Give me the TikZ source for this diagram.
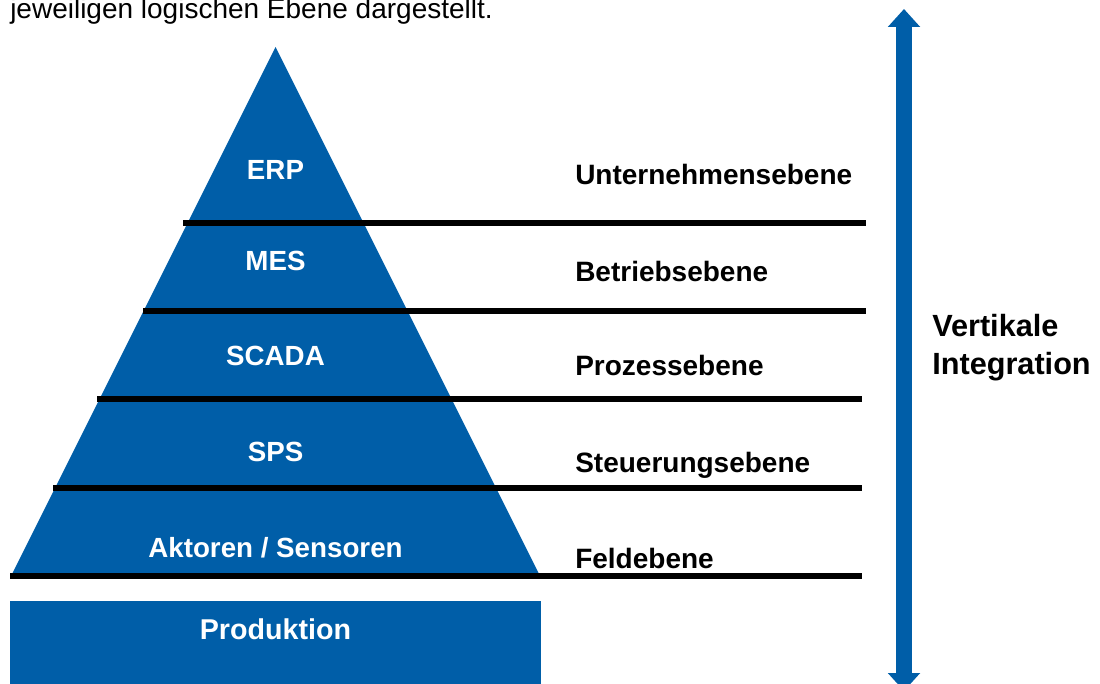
\documentclass[tikz,border=0pt]{standalone}
\usepackage{fontspec}
\setmainfont{Liberation Sans}
\usetikzlibrary{arrows.meta}
\definecolor{ebeneblau}{RGB}{0,94,168}

\begin{document}
\begin{tikzpicture}[x=0.75pt, y=-0.75pt,
    stufe/.style={text=white, inner sep=0pt, anchor=base, font=\bfseries\fontsize{20.8}{24}\selectfont},
    ebene/.style={text=black, inner sep=0pt, anchor=base west, font=\bfseries\fontsize{21}{24}\selectfont},
    trenner/.style={black, line width=4.2pt}]
    \useasboundingbox (0,0) rectangle (1100,684);

    % Satzende oben
    \node[anchor=base west, inner sep=0pt, font=\fontsize{21}{25}\selectfont] (satz) at (10,19) {jeweiligen logischen Ebene dargestellt.};

    % Pyramide
    \fill[ebeneblau] (11,576) -- (275.5,47) -- (540,576) -- cycle;
    \node[fill=ebeneblau, inner sep=0pt, anchor=north west, minimum width=531*0.75pt, minimum height=90*0.75pt] (prodfeld) at (10,601) {};

    \draw[trenner] (183,223) -- (866,223);
    \draw[trenner] (143,311) -- (866,311);
    \draw[trenner] (97,399) -- (862,399);
    \draw[trenner] (53,488) -- (862,488);
    \draw[trenner] (10,576) -- (862,576);

    \node[stufe] (erp) at (275.5,180) {ERP};
    \node[stufe] (mes) at (275.5,271) {MES};
    \node[stufe] (scada) at (275.5,366) {SCADA};
    \node[stufe] (sps) at (275.5,461) {SPS};
    \node[stufe] (aktsens) at (275.5,557) {Aktoren / Sensoren};
    \node[stufe, font=\bfseries\fontsize{21.5}{25}\selectfont] (prod) at (275.5,639) {Produktion};

    % Ebenen rechts
    \node[ebene] (unternehmen) at (575,185) {Unternehmensebene};
    \node[ebene] (betrieb) at (575,282) {Betriebsebene};
    \node[ebene] (prozess) at (575,376) {Prozessebene};
    \node[ebene] (steuerung) at (575,472) {Steuerungsebene};
    \node[ebene] (feld) at (575,568) {Feldebene};

    % vertikaler Pfeil
    \coordinate (oben) at (904,9);
    \coordinate (unten) at (904,691);
    \draw[ebeneblau, line width=12pt, {Triangle[width=23.5pt,length=13.5pt]}-{Triangle[width=23.5pt,length=13.5pt]}] (oben) -- (unten);

    \node[ebene, font=\bfseries\fontsize{23}{28}\selectfont] (vert) at (932,337) {Vertikale};
    \node[ebene, font=\bfseries\fontsize{23}{28}\selectfont] (integ) at (932,374) {Integration};
\end{tikzpicture}
\end{document}
